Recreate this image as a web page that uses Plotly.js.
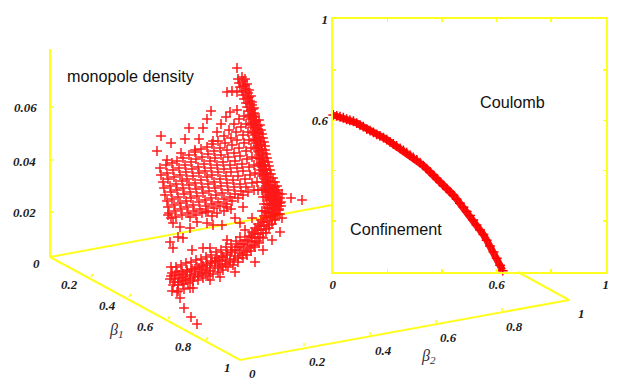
<!DOCTYPE html>
<html><head><meta charset="utf-8">
<script src="https://cdn.plot.ly/plotly-3.0.1.min.js"></script>
<style>html,body{margin:0;padding:0;background:#fff}#c{width:621px;height:380px}</style></head>
<body><div id="c"></div>
<script>
// Phase boundary (inset): beta2, beta1
const edgeB2=[.002,.015,.027,.039,.051,.063,.076,.088,.100,.112,.125,.137,.149,.161,.173,.186,.198,.210,.222,.234,.247,.259,.271,.283,.295,.308,.320,.332,.344,.357,.369,.381,.393,.405,.418,.430,.442,.454,.466,.479,.491,.503,.515,.527,.540,.552,.564,.576,.589,.601,.613,.623];
const edgeB1=[.621,.617,.614,.610,.604,.600,.596,.589,.581,.575,.565,.559,.552,.544,.538,.531,.523,.514,.506,.498,.489,.481,.472,.462,.453,.443,.432,.420,.408,.395,.382,.369,.355,.342,.329,.316,.303,.287,.271,.255,.239,.223,.205,.185,.165,.147,.125,.102,.078,.053,.026,.004];
// 3D cloud, read as projected positions on the picture
const r1x=[160,166,172,177,183,189,195,201,207,212,218,224,229,234,239,244,249];
const r1y=[168,165,163,161,158,155,152,149,147,144,141,136,130,124,119,116,117];
const r2x=[161,167,173,179,185,191,196,202,208,214,220,225,231,236,241,246,251];
const r2y=[175,173,170,168,165,162,159,157,154,151,148,143,138,132,127,124,125];
const r3x=[163,168,174,180,186,192,198,204,210,215,221,227,232,237,243,248,253];
const r3y=[182,179,177,175,172,169,167,164,161,158,155,150,145,140,135,132,133];
const r4x=[164,170,176,182,187,193,199,205,211,217,223,228,234,239,244,249,254];
const r4y=[188,186,184,181,179,176,173,171,168,165,162,157,153,148,143,140,141];
const r5x=[165,171,177,183,189,195,201,207,212,218,224,230,235,240,246,251,256];
const r5y=[195,192,190,188,185,183,180,177,175,172,169,165,161,156,151,148,149];
const r6x=[167,172,178,184,190,196,202,208,214,220,226,231,237,242,247,252,257];
const r6y=[201,199,197,194,192,189,187,184,182,179,176,172,168,164,159,157,158];
const r7x=[168,174,180,186,191,197,203,209,215,221,227,233,238,243,249,254,259];
const r7y=[207,205,203,201,198,196,193,191,188,186,183,180,176,171,167,165,166];
const r8x=[169,175,181,187,193,199,205,211,216,222,228,234,240,245,250,255,260];
const r8y=[213,211,209,207,205,202,200,198,195,193,190,187,184,179,175,173,174];
const r9x=[171,176,182,188,194,200,206,212,218,224,230,235,241,246,252,257];
const r9y=[218,217,215,213,211,209,206,204,202,199,197,194,191,187,183,182];
const r10x=[190,196,202,208,214,220,226,232,238,243,248,254,258];
const r10y=[217,215,213,211,208,206,204,201,198,195,192,190,190];
const spineAX=[242,243,245,246,248,249,250,252,253,254,255,256,257,258,259,259,260,261,262,263,263,264,265,266,267,268,270,271,273,274,276,277];
const spineAY=[77,81,85,89,93,97,101,105,109,113,117,121,125,129,133,137,141,145,149,153,157,161,165,169,173,177,181,185,189,193,197,201];
const spineBX=[239,240,242,243,244,246,247,248,250,251,252,253,254,255,255,256,257,258,259,260,261,262,263,264,265,266,268,270,271];
const spineBY=[83,87,91,95,99,103,107,111,115,119,123,127,131,135,139,143,147,151,155,159,163,167,171,175,179,183,187,191,195];
const spineCX=[245,247,249,251,252,254,255,256,258,259,260,261,262,262,263,264,265,266,267,268,270,272,274,276,278,279,280];
const spineCY=[79,84,90,96,102,108,114,120,126,132,138,144,150,155,160,165,170,175,180,185,190,194,198,202,206,210,214];
const spineDX=[259,260,261,262,263,264,265,265,266,267,268,269,270,271,273,275,277,278,279,280,281,281];
const spineDY=[120,125,130,134,138,142,146,150,154,158,162,166,170,174,178,182,186,190,194,198,202,206];
const spineEX=[244,246,248,250,251,253,254,255,256,257,258,259,259,260,261,262,263,264,266,268,270,272,273,274,275,275];
const spineEY=[86,92,98,104,110,116,122,128,134,140,146,152,158,164,170,176,182,188,192,196,200,204,208,212,216,220];
const spineFX=[262,265,268,271,274,277,263,266,269,272,275,278,264,267,270,273,276,262,265,268,271,274];
const spineFY=[190,190,191,192,192,193,197,197,198,198,199,200,204,204,205,205,206,211,211,212,212,213];
const bandAX=[170,175,180,185,190,195,200,205,210,215,220,225,230,235,240,244,248,252,255,258,261,264,267,270,272,274,276,277,277,276,275,273];
const bandAY=[279,279,278,277,275,274,272,270,268,266,264,261,259,256,253,250,246,242,238,234,230,226,222,217,213,209,205,201,197,192,187,182];
const bandBX=[172,177,182,187,192,197,202,207,212,217,222,227,232,237,241,245,249,252,255,258,261,264,266,268,270,271,272,272];
const bandBY=[273,272,271,270,269,267,265,263,261,258,256,253,250,247,244,240,236,232,228,224,220,216,212,208,204,199,194,189];
const bandCX=[173,178,183,188,193,198,203,208,213,218,223,228,233,238,243,247,251,255,259,263,266,269,272,275,277,279,280];
const bandCY=[285,285,284,283,281,280,278,276,274,272,270,267,265,262,258,255,251,247,243,238,233,228,224,219,214,209,203];
const bandDX=[171,176,181,186,191,196,201,206,211,216,221,226,231,236,172,178,184,190];
const bandDY=[267,267,265,263,262,260,259,257,255,252,250,247,244,241,291,291,289,288];
const bandEX=[215,219,223,227,231,235,239,243,247,251,254,257,260,263,266,269,272];
const bandEY=[262,260,257,255,252,250,247,244,241,237,234,230,226,222,218,213,209];
const bandFX=[218,222,226,230,234,238,242,246,250,254,257,260,263,266,269,272,274];
const bandFY=[268,266,264,262,260,258,255,252,248,245,241,237,233,229,225,220,215];
const bandGX=[171,175,179,183,187,191,195,199,203,207,211,215,174,178,182,186,190,194,198,202,206,210];
const bandGY=[276,275,275,274,272,271,269,268,266,265,263,261,282,282,281,280,279,277,276,274,273,271];
const strayX=[237,238,227,232,237,211,207,189,203,161,171,185,199,157,221,226,230,237,217,213,167,181,195,
 177,193,210,220,235,255,263,272,280,282,192,203,210,227,240,245,180,184,191,197,282,291,302,278,
 168,173,180,170,173,178,183,190,197,207,213,222,235,240,252,243,227,217,206,212,224,231];
const strayY=[68,79,92,91,92,111,119,128,128,136,143,139,139,151,124,117,112,110,132,141,160,153,150,
 292,288,280,277,272,262,250,240,232,218,250,248,248,240,237,230,298,308,317,324,194,198,200,203,
 215,223,227,242,248,237,238,228,222,223,225,225,218,223,218,207,207,213,212,216,211,209];
// Drawn frame of the 3D box
const boxX=[50,50,null,50,240,569,518,null,50,332];
const boxY=[49,257,null,257,360,300,272,null,257,205];
const tickX=[50,54,null,50,54,null,50,54,null,91,93,null,129,131,null,168,170,null,206,208,null,304,304,null,370,370,null,436,436,null,502,502];
const tickY=[107,107,null,160,160,null,212,212,null,277,274,null,297,294,null,319,316,null,340,337,null,346,343,null,335,332,null,323,320,null,311,308];
const axisText=['0.06','0.04','0.02','0','0.2','0.4','0.6','0.8','1','0','0.2','0.4','0.6','0.8','1'];
const axisTextX=[25,24,24,36,69,107,145,183,227,252,317,383,448,514,581];
const axisTextY=[107,161,212,263,284,305,326,346,367,373,361,350,337,326,313];
const insetXTicks=[0,.6,1], insetYTicks=[.6,1];
const insetXLabels=['0','0.6','1'], insetYLabels=['0.6','1'];
const insetXMinor=[.2,.4,.8], insetYMinor=[.2,.4,.8];

const yellow='#ffff1e', red='#ff0000', ink='#1c1c1c';
const cloudX=[].concat(r1x,r2x,r3x,r4x,r5x,r6x,r7x,r8x,r9x,r10x,spineAX,spineBX,spineCX,spineDX,spineEX,spineFX,bandAX,bandBX,bandCX,bandDX,bandEX,bandFX,bandGX,strayX);
const cloudY=[].concat(r1y,r2y,r3y,r4y,r5y,r6y,r7y,r8y,r9y,r10y,spineAY,spineBY,spineCY,spineDY,spineEY,spineFY,bandAY,bandBY,bandCY,bandDY,bandEY,bandFY,bandGY,strayY);
const plus={symbol:'cross-thin',size:7,color:red,line:{color:red,width:1.5}};
const traces=[
 {x:boxX,y:boxY,mode:'lines',line:{color:yellow,width:2},xaxis:'x',yaxis:'y',hoverinfo:'skip'},
 {x:tickX,y:tickY,mode:'lines',line:{color:yellow,width:1.5},xaxis:'x',yaxis:'y',hoverinfo:'skip'},
 {x:cloudX,y:cloudY,mode:'markers',marker:plus,opacity:.9,xaxis:'x',yaxis:'y'},
 {x:edgeB2,y:edgeB1,mode:'lines+markers',line:{color:'#ff1010',width:7},marker:{symbol:'cross-thin',size:7,color:red,line:{color:red,width:1.5}},xaxis:'x2',yaxis:'y2',cliponaxis:false}
];
const tickFont={family:'Liberation Serif',size:13,color:ink,style:'italic',weight:'bold'};
const label=(text,x,y,font,xa)=>({text,x,y,xref:'x',yref:'y',showarrow:false,font,xanchor:xa||'center',yanchor:'middle'});
const sans={family:'Liberation Sans',size:16.2,color:'#111'};
const greek={family:'Liberation Serif',size:16,color:'#334',style:'italic'};
const annotations=[
 ...axisText.map((t,i)=>label(t,axisTextX[i],axisTextY[i],tickFont)),
 label('monopole density',65,76,sans,'left'),
 label('Coulomb',478,102,sans,'left'),
 label('Confinement',348,229,sans,'left'),
 label('β<sub>1</sub>',116,330,greek),
 label('β<sub>2</sub>',428,356,greek)
];
const insetAxis=(dom,vals,labels,minor,anchor)=>({domain:dom,range:[0,1],anchor,showgrid:false,zeroline:false,showline:true,mirror:'ticks',linecolor:yellow,linewidth:2,ticks:'inside',ticklen:3,tickcolor:yellow,tickwidth:1.5,tickvals:vals,ticktext:labels,tickfont:tickFont,minor:{tickvals:minor,ticks:'inside',ticklen:3,tickcolor:yellow,tickwidth:1.5,showgrid:false},fixedrange:true});
const hidden=r=>({range:r,visible:false,fixedrange:true});
const layout={width:621,height:380,margin:{l:0,r:0,t:0,b:0},paper_bgcolor:'#fff',plot_bgcolor:'rgba(0,0,0,0)',showlegend:false,
 xaxis:Object.assign(hidden([0,621]),{domain:[0,1]}),yaxis:Object.assign(hidden([380,0]),{domain:[0,1]}),
 xaxis2:insetAxis([332.7/621,605.7/621],insetXTicks,insetXLabels,insetXMinor,'y2'),
 yaxis2:insetAxis([108.3/380,360.7/380],insetYTicks,insetYLabels,insetYMinor,'x2'),
 annotations};
Plotly.newPlot('c',traces,layout,{displayModeBar:false,staticPlot:true});
</script></body></html>
